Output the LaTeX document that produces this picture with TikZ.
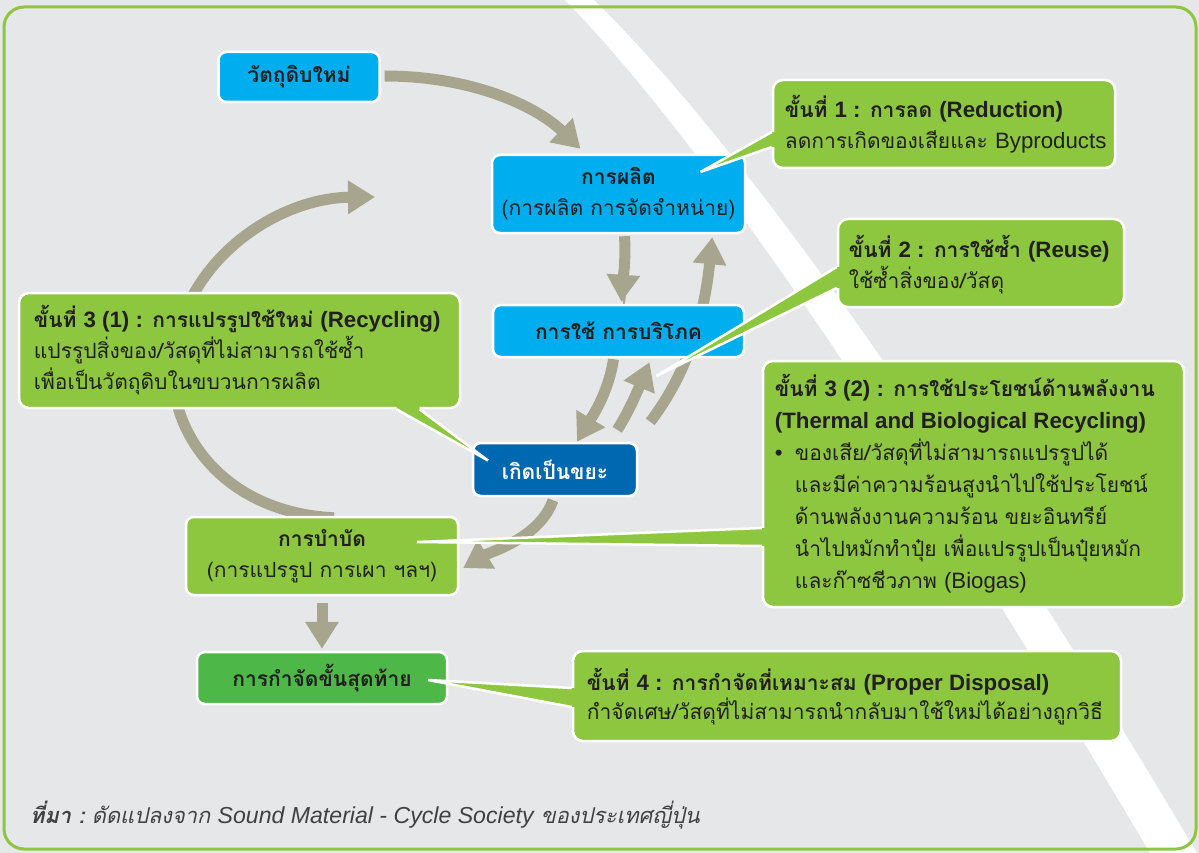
\documentclass[tikz,border=0pt]{standalone}
\usepackage{fontspec}
\setmainfont[Script=Thai]{Loma}
\newfontfamily\latfont[Scale=1.06]{Liberation Sans}
\newcommand\en[1]{{\latfont #1}}
\usetikzlibrary{arrows.meta,calc}
\definecolor{bgc}{HTML}{E6E7E8}
\definecolor{lblue}{HTML}{00AEEF}
\definecolor{dblue}{HTML}{0067B1}
\definecolor{lgreen}{HTML}{8DC63F}
\definecolor{dgreen}{HTML}{4DB848}
\definecolor{arrc}{HTML}{A8A58E}
\definecolor{txtc}{HTML}{231F20}
\definecolor{srcc}{HTML}{414042}
\tikzset{
  box/.style={rectangle, rounded corners=8pt, draw=white, line width=2.5pt, text=txtc, inner sep=0pt, align=center, font=\fontsize{21}{31}\selectfont},
  flowbox/.style={box, fill=lblue},
  callout/.style={rectangle, rounded corners=10pt, draw=white, line width=2.5pt, fill=lgreen, inner sep=0pt},
  ctext/.style={anchor=west, align=left, inner sep=0pt, text=txtc, font=\fontsize{21}{31}\selectfont},
  arr/.style={draw=arrc, line width=11pt, -{Triangle[length=27pt,width=32pt]}},
  wedgefill/.style={fill=lgreen},
  wedgeedge/.style={draw=white, line width=2.5pt},
}
\begin{document}
\begin{tikzpicture}[x=1pt,y=-1pt]
\useasboundingbox (0,0) rectangle (1199,853);
\fill[bgc] (0,0) rectangle (1199,853);
% white diagonal stripe
\fill[white] (565,0) .. controls (702,140) and (900,430) .. (1150,853)
  -- (1197,853) .. controls (945,430) and (737,140) .. (594,0) -- cycle;
% frame
\draw[lgreen, line width=3pt, rounded corners=20pt] (4,7) rectangle (1196,849);

% node places
\path (299,77) node[minimum width=161pt, minimum height=50pt, inner sep=0pt] (raw) {};
\path (618.5,192) node[minimum width=253pt, minimum height=78pt, inner sep=0pt] (prod) {};
\path (618.5,331) node[minimum width=251pt, minimum height=52pt, inner sep=0pt] (use) {};
\path (555,469.5) node[minimum width=164pt, minimum height=53pt, inner sep=0pt] (waste) {};
\path (322,554) node[minimum width=272pt, minimum height=78pt, inner sep=0pt] (treat) {};
\path (322,678) node[minimum width=250pt, minimum height=52pt, inner sep=0pt] (final) {};

\coordinate (a4s) at ($(waste.north east)+(13,-21)$);
\coordinate (a6s) at ($(waste.north east)+(-20,-13)$);

% arrows
\draw[arr] ($(raw.east)+(5,-1)$) .. controls (470,76) and (535,105) .. ($(prod.north)+(-38,-4)$);
\draw[arr] ($(treat.north)+(12,3)$) .. controls (215,512) and (160,420) .. (175,345)
  .. controls (192,255) and (280,198) .. (375,197);
\draw[arr] ($(prod.south)+(6,5)$) .. controls (626,260) and (623,280) .. ($(use.north)+(3,-3)$);
\draw[arr] (a4s) .. controls (690,370) and (705,310) .. ($(prod.south east)+(-33,6)$);
\draw[arr] ($(use.south)+(-5,2)$) .. controls (608,395) and (590,420) .. ($(waste.north)+(22,-1)$);
\draw[arr] (a6s) .. controls (630,410) and (640,385) .. ($(use.south)+(31,5)$);
\draw[arr] ($(waste.south)+(-2,4)$) .. controls (540,538) and (490,552) .. ($(treat.east)+(5,14)$);
\draw[arr] ($(treat.south)+(0,10)$) -- ($(final.north)+(0,-3)$);

% boxes drawn
\node[flowbox, minimum width=161pt, minimum height=50pt] at (raw) {\bfseries วัตถุดิบใหม่};
\node[flowbox, minimum width=253pt, minimum height=78pt] at ($(prod)+(0,2)$) {\bfseries การผลิต\\(การผลิต การจัดจำหน่าย)};
\node[flowbox, minimum width=251pt, minimum height=52pt] at (use) {\bfseries การใช้ การบริโภค};
\node[box, fill=dblue, text=white, minimum width=164pt, minimum height=53pt] at (waste) {\bfseries เกิดเป็นขยะ};
\node[box, fill=lgreen, minimum width=272pt, minimum height=78pt] at ($(treat)+(0,2)$) {\bfseries การบำบัด\\(การแปรรูป การเผา ฯลฯ)};
\node[box, fill=dgreen, minimum width=250pt, minimum height=52pt] at (final) {\bfseries การกำจัดขั้นสุดท้าย};

% callouts
\node[callout, minimum width=342pt, minimum height=88pt] (c1) at (944,124) {};
\node[callout, minimum width=286pt, minimum height=88pt] (c2) at (981,263) {};
\node[callout, minimum width=441pt, minimum height=115pt] (c31) at (239.5,350.5) {};
\node[callout, minimum width=421pt, minimum height=246pt] (c32) at (973.5,484) {};
\node[callout, minimum width=548pt, minimum height=90pt] (c4) at (847,696) {};

% wedges
\coordinate (t1) at ($(prod.center)+(82,-20)$);
\coordinate (b1a) at ($(c1.west)+(0,8)$);
\coordinate (b1b) at ($(c1.west)+(0,23)$);
\fill[wedgefill] (t1) -- (b1a) -- ++(6,0) -- ($(b1b)+(6,0)$) -- (b1b) -- cycle;
\draw[wedgeedge] (b1a) -- (t1) -- (b1b);
\coordinate (t2) at ($(use.center)+(38,45)$);
\coordinate (b2a) at ($(c2.west)+(0,4)$);
\coordinate (b2b) at ($(c2.west)+(0,25)$);
\fill[wedgefill] (t2) -- (b2a) -- ++(6,0) -- ($(b2b)+(6,0)$) -- (b2b) -- cycle;
\draw[wedgeedge] (b2a) -- (t2) -- (b2b);
\coordinate (t3) at ($(waste.center)+(-67,-9)$);
\coordinate (b3a) at ($(c31.south)+(157,0)$);
\coordinate (b3b) at ($(c31.south)+(180,0)$);
\fill[wedgefill] (t3) -- (b3b) -- ++(0,-6) -- ($(b3a)+(0,-6)$) -- (b3a) -- cycle;
\draw[wedgeedge] (b3a) -- (t3) -- (b3b);
\coordinate (t4) at ($(treat.center)+(95,-12)$);
\coordinate (b4a) at ($(c32.west)+(0,44)$);
\coordinate (b4b) at ($(c32.west)+(0,62)$);
\fill[wedgefill] (t4) -- (b4a) -- ++(6,0) -- ($(b4b)+(6,0)$) -- (b4b) -- cycle;
\draw[wedgeedge] (b4a) -- (t4) -- (b4b);
\coordinate (t5) at ($(final.center)+(106,2)$);
\coordinate (b5a) at ($(c4.west)+(0,-8)$);
\coordinate (b5b) at ($(c4.west)+(0,11)$);
\fill[wedgefill] (t5) -- (b5a) -- ++(6,0) -- ($(b5b)+(6,0)$) -- (b5b) -- cycle;
\draw[wedgeedge] (b5a) -- (t5) -- (b5b);

% callout texts
\node[ctext] (c1t) at ($(c1.west)+(13,0)$) {\bfseries ขั้นที่ \en{1 :} การลด \en{(Reduction)}\\ลดการเกิดของเสียและ \en{Byproducts}};
\node[ctext] (c2t) at ($(c2.west)+(12,2)$) {\bfseries ขั้นที่ \en{2 :} การใช้ซ้ำ \en{(Reuse)}\\ใช้ซ้ำสิ่งของ/วัสดุ};
\node[ctext] (c31t) at ($(c31.west)+(16,0)$) {\bfseries ขั้นที่ \en{3 (1) :} การแปรรูปใช้ใหม่ \en{(Recycling)}\\แปรรูปสิ่งของ/วัสดุที่ไม่สามารถใช้ซ้ำ\\เพื่อเป็นวัตถุดิบในขบวนการผลิต};
\node[ctext, font=\fontsize{21}{32}\selectfont] (c32t) at ($(c32.west)+(13,0)$) {\bfseries ขั้นที่ \en{3 (2) :} การใช้ประโยชน์ด้านพลังงาน\\\bfseries\en{(Thermal and Biological Recycling)}\\\makebox[20pt][l]{\en{•}}ของเสีย/วัสดุที่ไม่สามารถแปรรูปได้\\\hspace*{20pt}และมีค่าความร้อนสูงนำไปใช้ประโยชน์\\\hspace*{20pt}ด้านพลังงานความร้อน ขยะอินทรีย์\\\hspace*{20pt}นำไปหมักทำปุ๋ย เพื่อแปรรูปเป็นปุ๋ยหมัก\\\hspace*{20pt}และก๊าซชีวภาพ \en{(Biogas)}};
\node[ctext, font=\fontsize{21}{29}\selectfont] (c4t) at ($(c4.west)+(15,1)$) {\bfseries ขั้นที่ \en{4 :} การกำจัดที่เหมาะสม \en{(Proper Disposal)}\\กำจัดเศษ/วัสดุที่ไม่สามารถนำกลับมาใช้ใหม่ได้อย่างถูกวิธี};

% source
\node[anchor=west, inner sep=0pt, text=srcc, font=\fontsize{21.8}{26}\selectfont\itshape] (src) at (30,815) {\bfseries ที่มา :\mdseries\ ดัดแปลงจาก \en{Sound Material - Cycle Society} ของประเทศญี่ปุ่น};
\end{tikzpicture}
\end{document}
